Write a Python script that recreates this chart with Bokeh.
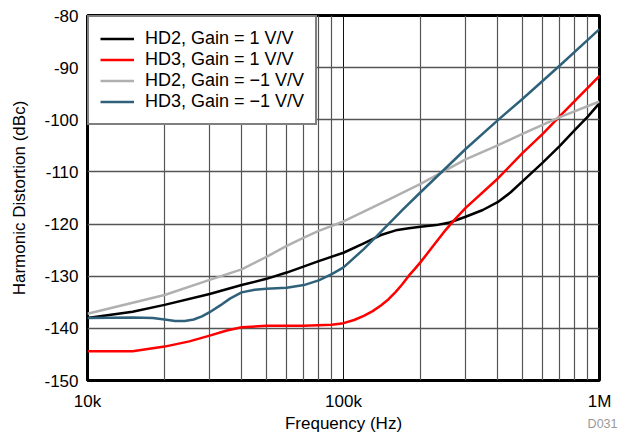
from bokeh.plotting import figure
from bokeh.models import FixedTicker, Legend, LegendItem, Label
from bokeh.embed import file_html
from bokeh.resources import INLINE

# ---- data ----
hd2_g1_f = [10e3, 15e3, 20e3, 30e3, 40e3, 50e3, 60e3, 80e3, 100e3, 120e3, 140e3, 160e3, 180e3, 200e3, 230e3, 260e3, 300e3, 350e3, 400e3, 450e3, 500e3, 600e3, 700e3, 800e3, 900e3, 1e6]
hd2_g1_v = [-138.0, -136.8, -135.5, -133.4, -131.7, -130.5, -129.3, -127.1, -125.5, -123.7, -122.1, -121.2, -120.8, -120.5, -120.2, -119.7, -118.6, -117.3, -115.8, -113.9, -111.8, -108.2, -105.0, -102.0, -99.4, -96.8]

hd3_g1_f = [10e3, 15e3, 20e3, 25e3, 30e3, 35e3, 40e3, 50e3, 70e3, 90e3, 100e3, 110e3, 120e3, 130e3, 140e3, 150e3, 160e3, 170e3, 180e3, 190e3, 200e3, 220e3, 250e3, 270e3, 300e3, 400e3, 500e3, 600e3, 700e3, 1e6]
hd3_g1_v = [-144.4, -144.4, -143.5, -142.5, -141.4, -140.4, -139.8, -139.5, -139.5, -139.3, -139.0, -138.4, -137.6, -136.7, -135.6, -134.4, -133.0, -131.5, -129.9, -128.6, -127.3, -124.7, -121.2, -119.3, -116.9, -111.3, -106.4, -102.7, -99.3, -91.6]

hd2_gm1_f = [10e3, 20e3, 30e3, 40e3, 50e3, 60e3, 70e3, 80e3, 100e3, 150e3, 200e3, 300e3, 400e3, 500e3, 700e3, 1e6]
hd2_gm1_v = [-137.2, -133.6, -130.7, -128.7, -126.3, -124.2, -122.6, -121.3, -119.5, -115.3, -112.3, -107.6, -104.9, -102.7, -99.5, -96.5]

hd3_gm1_f = [10e3, 15e3, 18e3, 20e3, 22e3, 24e3, 26e3, 28e3, 30e3, 33e3, 36e3, 40e3, 45e3, 50e3, 60e3, 70e3, 80e3, 90e3, 100e3, 120e3, 140e3, 170e3, 200e3, 300e3, 400e3, 500e3, 700e3, 1e6]
hd3_gm1_v = [-138.0, -137.9, -138.0, -138.3, -138.6, -138.6, -138.3, -137.7, -136.9, -135.6, -134.3, -133.1, -132.6, -132.4, -132.2, -131.7, -130.8, -129.6, -128.3, -124.8, -121.5, -117.3, -113.9, -105.6, -100.1, -96.0, -89.6, -82.6]

series_names = ["HD2, Gain = 1 V/V", "HD3, Gain = 1 V/V", "HD2, Gain = \u22121 V/V", "HD3, Gain = \u22121 V/V"]
series_colors = ["#000000", "#ff0000", "#b0b0b0", "#2f627a"]

x_ticks = [1e4, 1e5, 1e6]
x_tick_labels = ["10k", "100k", "1M"]
x_minor = [2e4, 3e4, 4e4, 5e4, 6e4, 7e4, 8e4, 9e4, 2e5, 3e5, 4e5, 5e5, 6e5, 7e5, 8e5, 9e5]
y_ticks = [-150, -140, -130, -120, -110, -100, -90, -80]
y_tick_labels = ["-150", "-140", "-130", "-120", "-110", "-100", "-90", "-80"]

FONT = "Liberation Sans"

p = figure(width=629, height=437, x_axis_type="log", x_range=(1e4, 1e6), y_range=(-150, -80),
           output_backend="svg", toolbar_location=None,
           min_border_left=87, min_border_right=29, min_border_top=15, min_border_bottom=57)

p.outline_line_color = "black"
p.outline_line_width = 3

p.xaxis.ticker = FixedTicker(ticks=x_ticks, minor_ticks=x_minor)
p.xaxis.major_label_overrides = {t: l for t, l in zip(x_ticks, x_tick_labels)}
p.yaxis.ticker = FixedTicker(ticks=y_ticks)
p.yaxis.major_label_overrides = {t: l for t, l in zip(y_ticks, y_tick_labels)}

for ax in (p.xaxis, p.yaxis):
    ax.axis_line_color = None
    ax.major_tick_line_color = None
    ax.minor_tick_line_color = None
    ax.major_tick_out = 0
    ax.major_tick_in = 0
    ax.minor_tick_out = 0
    ax.major_label_text_font = FONT
    ax.major_label_text_font_size = "17px"
    ax.major_label_text_color = "black"
    ax.axis_label_text_font = FONT
    ax.axis_label_text_font_size = "17px"
    ax.axis_label_text_font_style = "normal"
    ax.axis_label_text_color = "black"

p.xaxis.axis_label = "Frequency (Hz)"
p.yaxis.axis_label = "Harmonic Distortion (dBc)"
p.xaxis.major_label_standoff = 11
p.yaxis.major_label_standoff = 9
p.xaxis.axis_label_standoff = 0
p.yaxis.axis_label_standoff = 12

p.xgrid.grid_line_color = "#111111"
p.xgrid.grid_line_width = 1
p.xgrid.minor_grid_line_color = "#555555"
p.xgrid.minor_grid_line_width = 1.2
p.ygrid.grid_line_color = "#555555"
p.ygrid.grid_line_width = 1.5

xs = [hd2_g1_f, hd3_g1_f, hd2_gm1_f, hd3_gm1_f]
ys = [hd2_g1_v, hd3_g1_v, hd2_gm1_v, hd3_gm1_v]
items = []
for name, color, x, y in zip(series_names, series_colors, xs, ys):
    r = p.line(x, y, line_color=color, line_width=2.5, line_join="round")
    items.append(LegendItem(label=name, renderers=[r]))

legend = Legend(items=items, location="top_left", margin=0, padding=11,
                spacing=0, label_height=21, glyph_height=21, glyph_width=34,
                label_standoff=11, border_line_color="black", border_line_width=2.5,
                background_fill_color="white", background_fill_alpha=1.0,
                label_text_font=FONT, label_text_font_size="18px", label_text_color="black")
p.add_layout(legend)

p.add_layout(Label(x=18, y=-43, x_units="screen", y_units="screen", text="D031",
                   text_align="right", text_baseline="middle", text_font=FONT,
                   text_font_size="12.5px", text_color="#999999"), "right")

open("out.html", "w").write(file_html(p, INLINE))
